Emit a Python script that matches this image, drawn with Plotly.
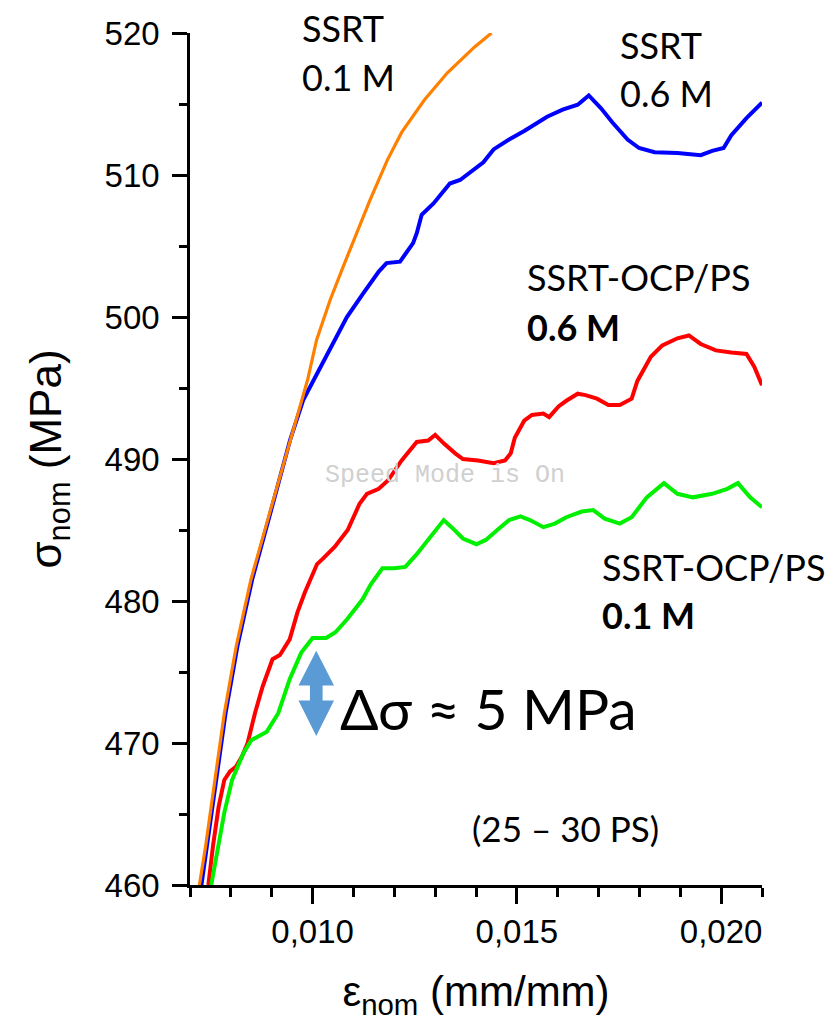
import plotly.graph_objects as go

# ---------------- data ----------------
orange_x = [0.00723, 0.00738, 0.00761, 0.00784, 0.00813, 0.00849, 0.0089, 0.00922, 0.00955,
            0.00988, 0.0101, 0.01043, 0.01075, 0.01108, 0.0114, 0.01183, 0.01218, 0.01274,
            0.0133, 0.01396, 0.01438]
orange_y = [460, 462.7, 467.4, 472.1, 476.8, 481.5, 485.7, 488.97, 492.25,
            495.6, 498.4, 501.2, 503.55, 505.9, 508.2, 511.05, 513.0, 515.3,
            517.2, 519.0, 520]

blue_x = [0.00728, 0.00741, 0.00764, 0.00787, 0.00816, 0.00852, 0.00892, 0.00924, 0.00945,
          0.00977, 0.0101, 0.01043, 0.01084, 0.01124, 0.01162, 0.01181, 0.01214, 0.01246,
          0.01255, 0.01267, 0.01296, 0.01336, 0.01361, 0.01418, 0.01443, 0.01481, 0.01518,
          0.01574, 0.01612, 0.01649, 0.01676, 0.01706, 0.01734, 0.01771, 0.01799, 0.01837,
          0.01893, 0.0195, 0.01978, 0.02006, 0.02025, 0.02062, 0.021]
blue_y = [460, 462.7, 467.4, 472.1, 476.8, 481.5, 485.7, 488.97, 491.34,
          494.15, 496.0, 497.7, 500.0, 501.67, 503.2, 503.8, 503.9, 505.2,
          505.9, 507.2, 508.0, 509.4, 509.65, 510.9, 511.8, 512.5, 513.1,
          514.1, 514.6, 514.95, 515.6, 514.7, 513.7, 512.5, 511.9, 511.6,
          511.55, 511.4, 511.7, 511.9, 512.8, 514.0, 515.1]

red_x = [0.00745, 0.00756, 0.0077, 0.00784, 0.00798, 0.00813, 0.00827, 0.00841, 0.00859,
         0.00878, 0.00902, 0.0092, 0.00944, 0.00963, 0.00981, 0.01011, 0.01026, 0.01054,
         0.01086, 0.01115, 0.01133, 0.01162, 0.01185, 0.01218, 0.01255, 0.01283, 0.013,
         0.01321, 0.01349, 0.01368, 0.01405, 0.01443, 0.01471, 0.01485, 0.01495, 0.01518,
         0.01537, 0.01565, 0.01579, 0.01602, 0.01621, 0.01649, 0.01668, 0.01696, 0.01724,
         0.01752, 0.01781, 0.01795, 0.01828, 0.01856, 0.01893, 0.01921, 0.0195, 0.01987,
         0.02025, 0.02062, 0.02081, 0.021]
red_y = [460, 462.7, 465.5, 467.4, 468.0, 468.35, 469.05, 470.0, 472.1,
         474.0, 475.9, 476.2, 477.3, 479.2, 480.6, 482.6, 483.0, 483.8,
         485.0, 486.85, 487.55, 487.9, 488.5, 489.9, 491.2, 491.3, 491.7,
         491.1, 490.4, 490.0, 489.9, 489.7, 489.9, 490.4, 491.5, 492.7,
         493.1, 493.2, 492.95, 493.7, 494.1, 494.6, 494.5, 494.25, 493.8,
         493.8, 494.25, 495.5, 497.2, 498.0, 498.5, 498.7, 498.1, 497.65,
         497.5, 497.4, 496.5, 495.2]

green_x = [0.00752, 0.00766, 0.00784, 0.00803, 0.00817, 0.00831, 0.0085, 0.00869, 0.00888,
           0.00916, 0.00944, 0.00972, 0.01, 0.01033, 0.01056, 0.01084, 0.01122, 0.01143,
           0.01171, 0.01199, 0.01227, 0.01255, 0.01283, 0.01307, 0.01321, 0.0134, 0.01368,
           0.01401, 0.01424, 0.01452, 0.01481, 0.01509, 0.01532, 0.01565, 0.01593, 0.01621,
           0.01659, 0.01687, 0.01715, 0.01752, 0.01781, 0.01818, 0.0186, 0.01893, 0.01931,
           0.01978, 0.02015, 0.02041, 0.02071, 0.021]
green_y = [460, 462.2, 465.1, 467.4, 468.35, 469.3, 470.2, 470.5, 470.8,
           472.1, 474.5, 476.35, 477.4, 477.4, 477.8, 478.7, 480.1, 481.2,
           482.3, 482.3, 482.4, 483.3, 484.3, 485.2, 485.7, 485.2, 484.4,
           484.0, 484.3, 485.0, 485.7, 485.96, 485.7, 485.2, 485.45, 485.9,
           486.3, 486.4, 485.8, 485.45, 485.9, 487.3, 488.3, 487.55, 487.3,
           487.55, 487.9, 488.3, 487.3, 486.6]

x_range = [0.007, 0.021]
y_range = [460, 520]
x_ticks = [0.010, 0.015, 0.020]
x_ticktext = ["0,010", "0,015", "0,020"]
y_ticks = [460, 470, 480, 490, 500, 510, 520]

# ---------------- figure ----------------
W, H = 833, 1025
ML, MR, MT, MB = 190, 71, 33, 140
PW, PH = W - ML - MR, H - MT - MB

def px(xp):
    return (xp - ML) / PW

def py(yp):
    return (H - MB - yp) / PH

fig = go.Figure()
series = [
    ("SSRT 0.6 M", blue_x, blue_y, "#0000ff", 4),
    ("SSRT 0.1 M", orange_x, orange_y, "#ff8000", 3.2),
    ("SSRT-OCP/PS 0.6 M", red_x, red_y, "#ff0000", 4),
    ("SSRT-OCP/PS 0.1 M", green_x, green_y, "#00f000", 4),
]
for name, xs, ys, col, lw in series:
    fig.add_trace(go.Scatter(x=xs, y=ys, mode="lines", name=name,
                             line=dict(color=col, width=lw), showlegend=False))

axis_font = dict(family="Liberation Sans, Arial, sans-serif", size=33, color="black")

fig.update_xaxes(range=x_range, tickvals=x_ticks, ticktext=x_ticktext,
                 showline=True, linecolor="black", linewidth=2.5, mirror=False,
                 ticks="outside", ticklen=16, tickwidth=2.5, tickcolor="black",
                 minor=dict(dtick=0.001, tick0=0.007, ticks="outside", ticklen=9,
                            tickwidth=2.5, tickcolor="black", showgrid=False),
                 showgrid=False, zeroline=False, tickfont=axis_font,
                 title=dict(text="ε<sub>nom</sub> (mm/mm)",
                            font=dict(family="Liberation Sans, Arial, sans-serif", size=42, color="black"),
                            standoff=28))
fig.update_yaxes(range=y_range, tickvals=y_ticks,
                 showline=True, linecolor="black", linewidth=2.5, mirror=False,
                 ticks="outside", ticklen=15, tickwidth=2.5, tickcolor="black",
                 minor=dict(dtick=5, tick0=460, ticks="outside", ticklen=8,
                            tickwidth=2.5, tickcolor="black", showgrid=False),
                 showgrid=False, zeroline=False, tickfont=axis_font,
                 ticklabelstandoff=6,
                 title=dict(text="σ<sub>nom</sub> (MPa)",
                            font=dict(family="Liberation Sans, Arial, sans-serif", size=44, color="black"),
                            standoff=30))

lab = "Lato, Open Sans, sans-serif"
texts = [
    ("SSRT", 300, 27.5, 36, "black", lab),
    ("0.1 M", 300, 77.5, 36, "black", lab),
    ("SSRT", 618, 44.5, 36, "black", lab),
    ("0.6 M", 618, 92.5, 36, "black", lab),
    ("SSRT-OCP/PS", 525, 277, 36, "black", lab),
    ("<b>0.6 M</b>", 525, 327, 36, "black", lab),
    ("SSRT-OCP/PS", 600, 567, 36, "black", lab),
    ("<b>0.1 M</b>", 600, 615, 36, "black", lab),
    ("Δσ ≈ 5 MPa", 338, 708, 57, "black", lab),
    ("(25 – 30 PS)", 470, 828, 35, "black", lab),
    ("Speed Mode is On", 323, 475, 25, "#d0d0d0", "Liberation Mono, Courier New, monospace"),
]
for t, x0, yc, size, col, fam in texts:
    fig.add_annotation(text=t, xref="paper", yref="paper", x=px(x0), y=py(yc),
                       xanchor="left", yanchor="middle", showarrow=False,
                       font=dict(family=fam, size=size, color=col))

# double-headed arrow marking the stress gap (data units)
acx, atop, abot = 0.01009, 476.5, 470.5
ahw, asw = 0.000435, 0.000155
ahb1, ahb2 = 474.05, 473.0
path = (f"M {acx},{atop} L {acx+ahw},{ahb1} L {acx+asw},{ahb1} L {acx+asw},{ahb2} "
        f"L {acx+ahw},{ahb2} L {acx},{abot} L {acx-ahw},{ahb2} L {acx-asw},{ahb2} "
        f"L {acx-asw},{ahb1} L {acx-ahw},{ahb1} Z")
fig.add_shape(type="path", path=path, xref="x", yref="y",
              fillcolor="#5b9bd5", line=dict(width=0))

fig.update_layout(width=W, height=H, margin=dict(l=ML, r=MR, t=MT, b=MB, autoexpand=False),
                  plot_bgcolor="white", paper_bgcolor="white", showlegend=False)

fig.write_html("out.html")
